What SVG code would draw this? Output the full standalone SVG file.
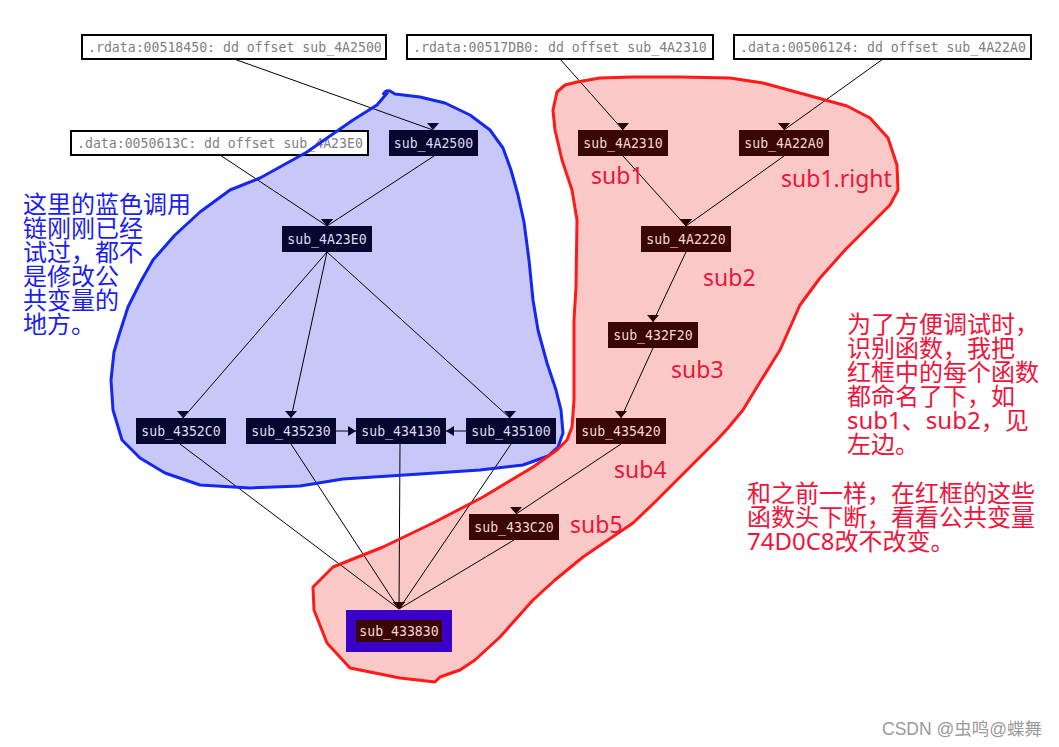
<svg xmlns="http://www.w3.org/2000/svg" width="1059" height="747" viewBox="0 0 1059 747">
<defs>
<style>
.ref rect{fill:#fff;stroke:#000;stroke-width:2}
.ref text{font-family:"DejaVu Sans Mono","Liberation Mono",monospace;font-size:13.2px;fill:#808080}
.nb rect{fill:#06062e}
.nr rect{fill:#3a0606}
.node text{font-family:"DejaVu Sans Mono","Liberation Mono",monospace;font-size:13.2px;text-anchor:middle}
.nb text{fill:#dcdcf0}
.nr text{fill:#f4d8d0}
.edges line,.edges path{stroke:#000;stroke-width:1;fill:none}
.lbl{font-family:"Noto Sans","Noto Sans CJK SC",sans-serif;font-size:23px;fill:#e8173a}
.cn{font-family:"Noto Sans","Noto Sans CJK SC",sans-serif;font-size:24px}
</style>
<marker id="adn" viewBox="0 0 7 12" refX="7" refY="6" markerWidth="7" markerHeight="12" markerUnits="userSpaceOnUse" orient="90"><path d="M0,0 L7,6 L0,12 z" fill="#06062e"/></marker>
<marker id="adr" viewBox="0 0 7 12" refX="7" refY="6" markerWidth="7" markerHeight="12" markerUnits="userSpaceOnUse" orient="90"><path d="M0,0 L7,6 L0,12 z" fill="#2a0404"/></marker>
<marker id="ah" viewBox="0 0 8 10" refX="8" refY="5" markerWidth="8" markerHeight="10" markerUnits="userSpaceOnUse" orient="auto"><path d="M0,0 L8,5 L0,10 z" fill="#06062e"/></marker>
</defs>
<rect width="1059" height="747" fill="#fff"/>

<g id="blobs-fill">
<path id="blue-fill" d="M388,92 L395,94 L420,97 L445,103 L470,115 L490,130 L503,148 L511,170 L518,195 L524,222 L529,260 L533,300 L538,330 L547,363 L556,390 L561,410 L563,433 L558,447 L548,456 L523,465 L480,470 L420,474 L343,479 L300,486 L250,488 L200,485 L165,473 L140,458 L122,440 L113,410 L111,380 L114,352 L119,335 L128,307 L140,283 L153,260 L175,235 L200,212 L230,190 L260,178 L307,152 L353,120 L377,105 Z" fill="#c8c8f8"/>
<path id="red-fill" d="M557,92 L565,85 L577,82 L600,78 L633,77 L680,77 L730,78 L763,83 L807,95 L847,106 L870,118 L888,138 L897,165 L898,190 L890,205 L870,225 L845,250 L820,278 L800,305 L780,350 L760,382 L743,410 L728,428 L717,440 L697,460 L677,480 L655,502 L633,523 L583,557 L555,580 L533,600 L500,637 L475,660 L460,670 L440,677 L435,682 L400,678 L350,668 L327,643 L314,610 L313,587 L333,567 L383,547 L433,523 L483,497 L533,467 L557,450 L567,440 L572,427 L574,400 L574,320 L576,287 L577,220 L572,190 L562,160 L555,130 L553,110 Z" fill="#fbc8c8"/>
</g>

<g id="connectors" class="edges">
<line x1="234" y1="59" x2="433" y2="130" marker-end="url(#adn)"/>
<line x1="560" y1="59" x2="623" y2="130" marker-end="url(#adr)"/>
<line x1="883" y1="59" x2="784" y2="130" marker-end="url(#adr)"/>
<line x1="220" y1="155" x2="327" y2="226" marker-end="url(#adn)"/>
<line x1="434" y1="156" x2="327" y2="226" marker-end="url(#adn)"/>
<line x1="623" y1="156" x2="686" y2="226" marker-end="url(#adr)"/>
<line x1="784" y1="156" x2="686" y2="226" marker-end="url(#adr)"/>
<line x1="686" y1="252" x2="653" y2="322" marker-end="url(#adr)"/>
<line x1="653" y1="348" x2="621" y2="418" marker-end="url(#adr)"/>
<line x1="327" y1="252" x2="183" y2="418" marker-end="url(#adn)"/>
<line x1="327" y1="252" x2="291" y2="418" marker-end="url(#adn)"/>
<line x1="327" y1="252" x2="510" y2="418" marker-end="url(#adn)"/>
<line x1="336" y1="431" x2="356" y2="431" marker-end="url(#ah)"/>
<line x1="466" y1="431" x2="446" y2="431" marker-end="url(#ah)"/>
<line x1="621" y1="444" x2="516" y2="514" marker-end="url(#adr)"/>
<line x1="180" y1="444" x2="399" y2="609" marker-end="url(#adr)"/>
<line x1="291" y1="444" x2="399" y2="609" marker-end="url(#adr)"/>
<line x1="400" y1="444" x2="399" y2="609" marker-end="url(#adr)"/>
<line x1="511" y1="444" x2="399" y2="609" marker-end="url(#adr)"/>
<line x1="514" y1="540" x2="399" y2="609" marker-end="url(#adr)"/>
</g>

<g id="ref-00518450" class="ref"><rect x="82" y="35" width="304" height="24"/><text x="88" y="52">.rdata:00518450: dd offset sub_4A2500</text></g>
<g id="ref-00517DB0" class="ref"><rect x="407" y="35" width="306" height="24"/><text x="413" y="52">.rdata:00517DB0: dd offset sub_4A2310</text></g>
<g id="ref-00506124" class="ref"><rect x="734" y="35" width="297" height="24"/><text x="740" y="52">.data:00506124: dd offset sub_4A22A0</text></g>
<g id="ref-0050613C" class="ref"><rect x="71" y="131" width="297" height="24"/><text x="77" y="148">.data:0050613C: dd offset sub_4A23E0</text></g>

<g id="n-sub_4A2500" class="node nb"><rect x="389" y="130" width="89" height="26"/><text x="433.5" y="147.5">sub_4A2500</text></g>
<g id="n-sub_4A2310" class="node nr"><rect x="578" y="130" width="90" height="26"/><text x="623" y="147.5">sub_4A2310</text></g>
<g id="n-sub_4A22A0" class="node nr"><rect x="739" y="130" width="90" height="26"/><text x="784" y="147.5">sub_4A22A0</text></g>
<g id="n-sub_4A23E0" class="node nb"><rect x="282" y="226" width="90" height="26"/><text x="327" y="243.5">sub_4A23E0</text></g>
<g id="n-sub_4A2220" class="node nr"><rect x="641" y="226" width="90" height="26"/><text x="686" y="243.5">sub_4A2220</text></g>
<g id="n-sub_432F20" class="node nr"><rect x="608" y="322" width="90" height="26"/><text x="653" y="339.5">sub_432F20</text></g>
<g id="n-sub_435420" class="node nr"><rect x="576" y="418" width="90" height="26"/><text x="621" y="435.5">sub_435420</text></g>
<g id="n-sub_4352C0" class="node nb"><rect x="136" y="418" width="90" height="26"/><text x="181" y="435.5">sub_4352C0</text></g>
<g id="n-sub_435230" class="node nb"><rect x="246" y="418" width="90" height="26"/><text x="291" y="435.5">sub_435230</text></g>
<g id="n-sub_434130" class="node nb"><rect x="356" y="418" width="90" height="26"/><text x="401" y="435.5">sub_434130</text></g>
<g id="n-sub_435100" class="node nb"><rect x="466" y="418" width="90" height="26"/><text x="511" y="435.5">sub_435100</text></g>
<g id="n-sub_433C20" class="node nr"><rect x="469" y="514" width="90" height="26"/><text x="514" y="531.5">sub_433C20</text></g>
<g id="n-sub_433830" class="node nr"><rect x="346" y="610" width="106" height="42" style="fill:#3a00c8"/><rect x="356" y="620" width="86" height="22"/><text x="399" y="635.5">sub_433830</text></g>

<g id="blobs-stroke" fill="none" stroke-width="3" stroke-linejoin="round">
<path d="M383,95 Q385,90 390,91 L395,94 L420,97 L445,103 L470,115 L490,130 L503,148 L511,170 L518,195 L524,222 L529,260 L533,300 L538,330 L547,363 L556,390 L561,410 L563,433 L558,447 L548,456 L523,465 L480,470 L420,474 L343,479 L300,486 L250,488 L200,485 L165,473 L140,458 L122,440 L113,410 L111,380 L114,352 L119,335 L128,307 L140,283 L153,260 L175,235 L200,212 L230,190 L260,178 L307,152 L353,120 L377,105 L388,92" stroke="#1428f0"/>
<path d="M557,92 L565,85 L577,82 L600,78 L633,77 L680,77 L730,78 L763,83 L807,95 L847,106 L870,118 L888,138 L897,165 L898,190 L890,205 L870,225 L845,250 L820,278 L800,305 L780,350 L760,382 L743,410 L728,428 L717,440 L697,460 L677,480 L655,502 L633,523 L583,557 L555,580 L533,600 L500,637 L475,660 L460,670 L440,677 L435,682 L400,678 L350,668 L327,643 L314,610 L313,587 L333,567 L383,547 L433,523 L483,497 L533,467 L557,450 L567,440 L572,427 L574,400 L574,320 L576,287 L577,220 L572,190 L562,160 L555,130 L553,110 Z" stroke="#ff1a1a"/>
</g>

<g id="labels">
<text class="lbl" x="591" y="184">sub1</text>
<text class="lbl" x="781" y="187">sub1.right</text>
<text class="lbl" x="703" y="286">sub2</text>
<text class="lbl" x="671" y="378">sub3</text>
<text class="lbl" x="614" y="478">sub4</text>
<text class="lbl" x="570" y="533">sub5</text>
</g>

<g id="note-blue" class="cn" fill="#1a1ef0">
<text x="23" y="213">这里的蓝色调用</text>
<text x="23" y="237">链刚刚已经</text>
<text x="23" y="261">试过，都不</text>
<text x="23" y="285">是修改公</text>
<text x="23" y="309">共变量的</text>
<text x="23" y="333">地方。</text>
</g>

<g id="note-red" class="cn" fill="#f0143c">
<text x="847" y="333">为了方便调试时，</text>
<text x="847" y="357">识别函数，我把</text>
<text x="847" y="381">红框中的每个函数</text>
<text x="847" y="405">都命名了下，如</text>
<text x="847" y="429">sub1、sub2，见</text>
<text x="847" y="453">左边。</text>
<text x="747" y="502">和之前一样，在红框的这些</text>
<text x="747" y="526">函数头下断，看看公共变量</text>
<text x="747" y="550">74D0C8改不改变。</text>
</g>

<text id="watermark" x="882" y="735" font-family="'Liberation Sans','Noto Sans CJK SC',sans-serif" font-size="17.5" fill="#9a9a9a">CSDN @虫鸣@蝶舞</text>
</svg>
